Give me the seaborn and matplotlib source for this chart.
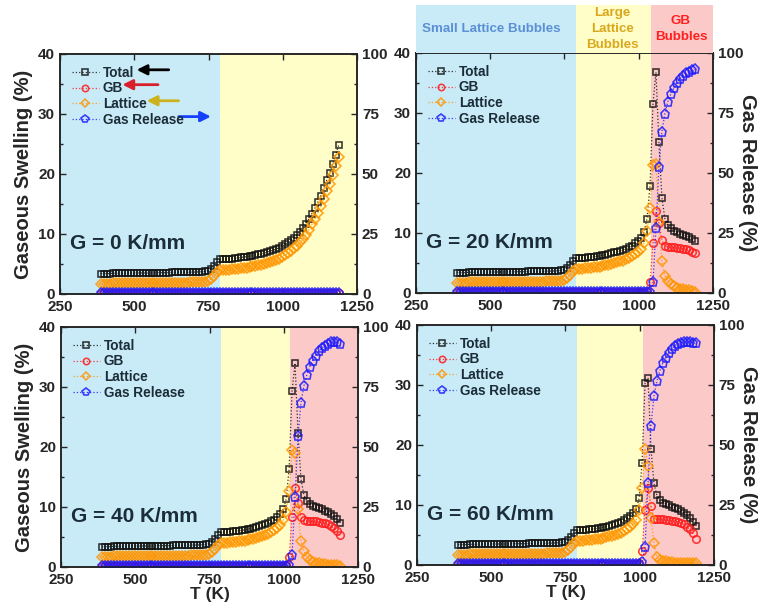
import numpy as np
import matplotlib
matplotlib.use("Agg")
import matplotlib.pyplot as plt
import seaborn as sns
from matplotlib.ticker import MultipleLocator

sns.set_style("ticks")
plt.rcParams["font.family"] = ["Liberation Sans", "DejaVu Sans"]
plt.rcParams["font.weight"] = "bold"
plt.rcParams["axes.labelweight"] = "bold"

# temperature grid (K)
T = np.arange(388, 1189, 10)

# common low-temperature part, 388..788 K (same for every gradient)
low_total = [3.4, 3.4, 3.4, 3.4, 3.45, 3.45, 3.45, 3.45, 3.45, 3.5,
             3.5, 3.5, 3.5, 3.5, 3.5, 3.5, 3.5, 3.5, 3.55, 3.55,
             3.55, 3.55, 3.55, 3.55, 3.6, 3.6, 3.6, 3.6, 3.6, 3.6,
             3.65, 3.65, 3.65, 3.7, 3.7, 3.75, 3.9, 4.2, 4.7, 5.3, 5.8]
low_lattice = [1.7, 1.7, 1.7, 1.7, 1.75, 1.75, 1.75, 1.75, 1.75, 1.8,
               1.8, 1.8, 1.8, 1.8, 1.8, 1.8, 1.8, 1.8, 1.85, 1.85,
               1.85, 1.85, 1.85, 1.85, 1.9, 1.9, 1.9, 1.9, 1.9, 1.9,
               1.95, 1.95, 1.95, 2.0, 2.0, 2.05, 2.2, 2.5, 3.0, 3.6, 4.0]
low_gb = [0.1, 0.1, 0.1, 0.1, 0.1, 0.1, 0.1, 0.1, 0.1, 0.1,
          0.1, 0.1, 0.1, 0.1, 0.1, 0.1, 0.1, 0.1, 0.1, 0.1,
          0.1, 0.1, 0.1, 0.1, 0.1, 0.1, 0.1, 0.1, 0.1, 0.1,
          0.1, 0.1, 0.1, 0.1, 0.1, 0.1, 0.1, 0.1, 0.1, 0.1, 0.1]
low_gas = [0.4, 0.4, 0.4, 0.4, 0.4, 0.4, 0.4, 0.4, 0.4, 0.4,
           0.4, 0.4, 0.4, 0.4, 0.4, 0.4, 0.4, 0.4, 0.4, 0.4,
           0.4, 0.4, 0.4, 0.4, 0.4, 0.4, 0.4, 0.4, 0.4, 0.4,
           0.4, 0.4, 0.4, 0.4, 0.4, 0.4, 0.4, 0.4, 0.4, 0.4, 0.4]

# 798..1188 K for each gradient
total_g0 = [5.8, 5.8, 5.85, 5.9, 5.95, 6.0, 6.1, 6.15, 6.2, 6.3,
            6.4, 6.5, 6.6, 6.7, 6.85, 7.0, 7.15, 7.3, 7.5, 7.7,
            8.0, 8.3, 8.6, 9.0, 9.4, 9.8, 10.4, 11.0, 11.7, 12.5,
            13.4, 14.3, 15.3, 16.4, 17.7, 19.0, 20.2, 21.7, 23.2, 24.8]
lattice_g0 = [4.0, 4.0, 4.05, 4.1, 4.15, 4.2, 4.3, 4.35, 4.4, 4.5,
              4.6, 4.7, 4.8, 4.9, 5.05, 5.2, 5.35, 5.5, 5.7, 5.9,
              6.2, 6.5, 6.8, 7.2, 7.6, 8.0, 8.6, 9.2, 9.9, 10.7,
              11.6, 12.5, 13.5, 14.6, 15.9, 17.2, 18.4, 19.9, 21.4, 22.9]
gb_g0 = [0.1, 0.1, 0.1, 0.1, 0.1, 0.1, 0.1, 0.1, 0.1, 0.1,
         0.1, 0.1, 0.1, 0.1, 0.1, 0.1, 0.1, 0.1, 0.1, 0.1,
         0.1, 0.1, 0.1, 0.1, 0.15, 0.15, 0.15, 0.15, 0.15, 0.15,
         0.2, 0.2, 0.2, 0.2, 0.2, 0.2, 0.2, 0.2, 0.2, 0.2]
gas_g0 = [0.4, 0.4, 0.4, 0.4, 0.4, 0.4, 0.4, 0.4, 0.4, 0.4,
          0.4, 0.4, 0.4, 0.4, 0.4, 0.4, 0.4, 0.4, 0.4, 0.4,
          0.4, 0.4, 0.4, 0.4, 0.4, 0.4, 0.4, 0.4, 0.4, 0.4,
          0.4, 0.4, 0.4, 0.4, 0.4, 0.4, 0.4, 0.4, 0.4, 0.4]

total_g20 = [5.8, 5.85, 5.9, 5.95, 6.0, 6.05, 6.1, 6.2, 6.3, 6.4,
             6.5, 6.6, 6.75, 6.9, 7.05, 7.2, 7.4, 7.65, 7.9, 8.3,
             8.7, 9.2, 10.2, 12.4, 17.9, 31.5, 36.8, 25.1, 15.9, 12.4,
             11.3, 10.8, 10.4, 10.1, 9.9, 9.7, 9.5, 9.3, 9.0, 8.6]
lattice_g20 = [4.0, 4.05, 4.1, 4.15, 4.2, 4.25, 4.3, 4.4, 4.5, 4.6,
               4.7, 4.8, 4.95, 5.1, 5.25, 5.4, 5.6, 5.85, 6.1, 6.5,
               6.9, 7.4, 8.4, 10.3, 14.2, 21.4, 21.5, 11.8, 5.3, 2.9,
               2.0, 1.5, 1.1, 0.9, 0.7, 0.6, 0.5, 0.5, 0.4, 0.2]
gb_g20 = [0.1, 0.1, 0.1, 0.1, 0.1, 0.1, 0.1, 0.1, 0.1, 0.1,
          0.1, 0.1, 0.1, 0.1, 0.1, 0.1, 0.1, 0.1, 0.1, 0.1,
          0.1, 0.1, 0.1, 0.4, 1.8, 8.3, 13.6, 11.6, 8.8, 7.8,
          7.7, 7.6, 7.6, 7.5, 7.5, 7.4, 7.3, 7.1, 6.9, 6.6]
gas_g20 = [0.4, 0.4, 0.4, 0.4, 0.4, 0.4, 0.4, 0.4, 0.4, 0.4,
           0.4, 0.4, 0.4, 0.4, 0.4, 0.4, 0.4, 0.4, 0.4, 0.4,
           0.4, 0.4, 0.4, 0.4, 0.6, 4.4, 27.0, 52.5, 67.2, 74.7,
           79.7, 82.8, 85.3, 87.4, 89.2, 90.4, 91.5, 92.2, 92.9, 93.3]

total_g40 = [5.8, 5.85, 5.9, 5.95, 6.0, 6.05, 6.1, 6.2, 6.3, 6.4,
             6.5, 6.65, 6.8, 6.95, 7.1, 7.35, 7.6, 7.9, 8.3, 8.8,
             9.6, 11.3, 16.3, 29.4, 34.0, 22.3, 14.6, 12.0, 11.0, 10.5,
             10.2, 10.0, 9.8, 9.6, 9.4, 9.2, 8.9, 8.5, 8.0, 7.4]
lattice_g40 = [4.0, 4.05, 4.1, 4.15, 4.2, 4.25, 4.3, 4.4, 4.5, 4.6,
               4.7, 4.85, 5.0, 5.15, 5.3, 5.55, 5.8, 6.1, 6.5, 7.0,
               7.8, 9.2, 12.7, 19.5, 19.0, 9.6, 4.3, 2.6, 1.7, 1.2,
               0.9, 0.7, 0.6, 0.5, 0.5, 0.4, 0.4, 0.4, 0.3, 0.1]
gb_g40 = [0.1, 0.1, 0.1, 0.1, 0.1, 0.1, 0.1, 0.1, 0.1, 0.1,
          0.1, 0.1, 0.1, 0.1, 0.1, 0.1, 0.1, 0.1, 0.1, 0.1,
          0.1, 0.4, 1.7, 8.3, 13.1, 10.7, 8.3, 7.8, 7.7, 7.6,
          7.6, 7.6, 7.5, 7.4, 7.3, 7.1, 6.8, 6.5, 6.0, 5.3]
gas_g40 = [0.4, 0.4, 0.4, 0.4, 0.4, 0.4, 0.4, 0.4, 0.4, 0.4,
           0.4, 0.4, 0.4, 0.4, 0.4, 0.4, 0.4, 0.4, 0.4, 0.4,
           0.4, 0.4, 0.7, 4.9, 29.2, 54.6, 68.5, 75.5, 80.2, 83.5,
           86.0, 88.0, 89.8, 91.2, 92.2, 93.0, 93.6, 93.8, 93.6, 93.0]

total_g60 = [5.8, 5.85, 5.9, 5.95, 6.0, 6.05, 6.1, 6.2, 6.3, 6.4,
             6.55, 6.7, 6.85, 7.0, 7.2, 7.45, 7.75, 8.1, 8.6, 9.3,
             11.1, 17.0, 30.3, 31.1, 19.4, 13.6, 11.6, 10.8, 10.4, 10.2,
             10.0, 9.7, 9.5, 9.3, 9.0, 8.7, 8.3, 7.8, 7.2, 6.5]
lattice_g60 = [4.0, 4.05, 4.1, 4.15, 4.2, 4.25, 4.3, 4.4, 4.5, 4.6,
               4.75, 4.9, 5.05, 5.2, 5.4, 5.65, 5.95, 6.3, 6.8, 7.5,
               9.1, 12.8, 19.4, 16.5, 7.8, 3.6, 1.3, 0.9, 0.7, 0.6,
               0.5, 0.5, 0.4, 0.4, 0.4, 0.4, 0.4, 0.4, 0.4, 0.3]
gb_g60 = [0.1, 0.1, 0.1, 0.1, 0.1, 0.1, 0.1, 0.1, 0.1, 0.1,
          0.1, 0.1, 0.1, 0.1, 0.1, 0.1, 0.1, 0.1, 0.1, 0.1,
          0.4, 2.3, 9.2, 12.8, 9.8, 7.6, 7.6, 7.6, 7.6, 7.5,
          7.5, 7.4, 7.3, 7.2, 7.0, 6.8, 6.4, 6.0, 5.3, 4.4]
gas_g60 = [0.4, 0.4, 0.4, 0.4, 0.4, 0.4, 0.4, 0.4, 0.4, 0.4,
           0.4, 0.4, 0.4, 0.4, 0.4, 0.4, 0.4, 0.4, 0.4, 0.4,
           0.5, 1.1, 7.4, 34.3, 58.0, 70.4, 76.7, 81.0, 84.2, 86.3,
           88.5, 89.9, 91.4, 92.2, 92.7, 93.0, 93.0, 92.9, 92.7, 92.3]

gradients = [0, 20, 40, 60]
gb_start = [1250, 1040, 1020, 1010]   # where the GB-bubble (red) zone begins
lattice_start = 790                    # small -> large lattice bubbles

BLUE_BG = "#c9ebf7"
YELLOW_BG = "#fffdc8"
RED_BG = "#fcc9c9"
TEXT_C = "#1b2d38"

series_style = [
    # name, marker, colour, markersize
    ("Total", "s", "#111111", 5.0),
    ("GB", "o", "#ff1a1a", 5.4),
    ("Lattice", "D", "#ff9500", 4.6),
]
gas_style = ("Gas Release", "p", "#1a1aff", 6.5)

fig = plt.figure(figsize=(7.58, 6.07), dpi=100)
positions = [
    [0.0792, 0.5157, 0.3918, 0.3954],
    [0.5488, 0.5173, 0.3918, 0.3954],
    [0.0805, 0.0659, 0.3918, 0.3954],
    [0.5501, 0.0692, 0.3918, 0.3954],
]
panels = [
    (total_g0, gb_g0, lattice_g0, gas_g0),
    (total_g20, gb_g20, lattice_g20, gas_g20),
    (total_g40, gb_g40, lattice_g40, gas_g40),
    (total_g60, gb_g60, lattice_g60, gas_g60),
]


def zones(ax, red_from):
    ax.axvspan(250, lattice_start, color=BLUE_BG, lw=0, zorder=0)
    ax.axvspan(lattice_start, red_from, color=YELLOW_BG, lw=0, zorder=0)
    if red_from < 1250:
        ax.axvspan(red_from, 1250, color=RED_BG, lw=0, zorder=0)


def curve(ax, y, name, mk, col, ms):
    sns.lineplot(x=T, y=y, ax=ax, estimator=None, legend=False, label=name,
                 color=col, linestyle=":", linewidth=0.9, alpha=0.85,
                 marker=mk, markersize=ms, markerfacecolor="none",
                 markeredgecolor=col, markeredgewidth=1.15)


for i, (g, pos, red_from, data) in enumerate(zip(gradients, positions, gb_start, panels)):
    tot, gb, lat, gas = data
    ax = fig.add_axes(pos)
    zones(ax, red_from)

    for vals, low, (name, mk, col, ms) in zip((tot, gb, lat), (low_total, low_gb, low_lattice), series_style):
        curve(ax, np.array(low + vals), name, mk, col, ms)

    ax2 = ax.twinx()
    curve(ax2, np.array(low_gas + gas), *gas_style)

    ax.set_xlim(250, 1250)
    ax.set_ylim(0, 40)
    ax2.set_ylim(0, 100)
    ax.xaxis.set_major_locator(MultipleLocator(250))
    ax.yaxis.set_major_locator(MultipleLocator(10))
    ax.yaxis.set_minor_locator(MultipleLocator(5))
    ax2.yaxis.set_major_locator(MultipleLocator(25))
    ax2.yaxis.set_minor_locator(MultipleLocator(12.5))
    ax.tick_params(axis="x", which="both", direction="in", top=True, labelsize=11, length=4, width=1, pad=4)
    ax.tick_params(axis="y", which="both", direction="in", labelsize=11, width=1)
    ax.tick_params(axis="y", which="major", length=4)
    ax.tick_params(axis="y", which="minor", length=2.5)
    ax2.tick_params(axis="y", which="both", direction="in", labelsize=11, width=1)
    ax2.tick_params(axis="y", which="major", length=4)
    ax2.tick_params(axis="y", which="minor", length=2.5)
    for a in (ax, ax2):
        for sp in a.spines.values():
            sp.set_linewidth(1.1)
            sp.set_color("#222222")

    ax.set_xlabel("")
    ax.set_ylabel("")
    ax2.set_ylabel("")
    if i % 2 == 0:
        ax.set_ylabel("Gaseous Swelling (%)", fontsize=14.5, fontweight="bold")
        ax.yaxis.set_label_coords(-0.09, 0.5)
    else:
        ax2.set_ylabel("Gas Release (%)", fontsize=14.5, fontweight="bold", rotation=270, va="center")
        ax2.yaxis.set_label_coords(1.117, 0.5)
    if i >= 2:
        ax.set_xlabel("T (K)", fontsize=12.5, fontweight="bold")
        ax.xaxis.set_label_coords(0.5, -0.085)

    ax.text(0.035, 0.21, f"G = {g} K/mm", transform=ax.transAxes, fontsize=15,
            fontweight="bold", color=TEXT_C, va="center", ha="left")

    h1, l1 = ax.get_legend_handles_labels()
    h2, l2 = ax2.get_legend_handles_labels()
    leg = ax2.legend(h1 + h2, l1 + l2, loc="upper left", bbox_to_anchor=(0.0, 1.0),
                     frameon=False, fontsize=9.8, handlelength=2.0, handletextpad=0.3,
                     labelspacing=0.13, borderaxespad=0.55, borderpad=0.3, markerscale=0.85)
    for t in leg.get_texts():
        t.set_color(TEXT_C)
        t.set_fontweight("bold")

    if g == 0:
        arrows = [
            (0.366, 0.258, 0.934, "#000000"),
            (0.330, 0.210, 0.872, "#d8202a"),
            (0.399, 0.292, 0.805, "#ccb21c"),
            (0.400, 0.508, 0.739, "#1440ff"),
        ]
        for x0, x1, yy, c in arrows:
            ax2.annotate("", xy=(x1, yy), xytext=(x0, yy), xycoords="axes fraction",
                         arrowprops=dict(arrowstyle="-|>", color=c, lw=2.0, mutation_scale=15,
                                         shrinkA=0, shrinkB=0))

# regime header above the G = 20 K/mm panel
hdr = fig.add_axes([0.5488, 0.9127, 0.3918, 0.079])
hdr.set_xlim(250, 1250)
hdr.set_ylim(0, 1)
hdr.axvspan(250, lattice_start, color=BLUE_BG, lw=0)
hdr.axvspan(lattice_start, gb_start[1], color=YELLOW_BG, lw=0)
hdr.axvspan(gb_start[1], 1250, color=RED_BG, lw=0)
hdr.axis("off")
hdr.text(505, 0.5, "Small Lattice Bubbles", ha="center", va="center", fontsize=9.6,
         fontweight="bold", color="#5b8fd6")
hdr.text(912, 0.5, "Large\nLattice\nBubbles", ha="center", va="center", fontsize=9.6,
         fontweight="bold", color="#d9a81c", linespacing=1.4)
hdr.text(1142, 0.5, "GB\nBubbles", ha="center", va="center", fontsize=9.6,
         fontweight="bold", color="#ff2020", linespacing=1.4)

fig.savefig("out.png", dpi=100)
